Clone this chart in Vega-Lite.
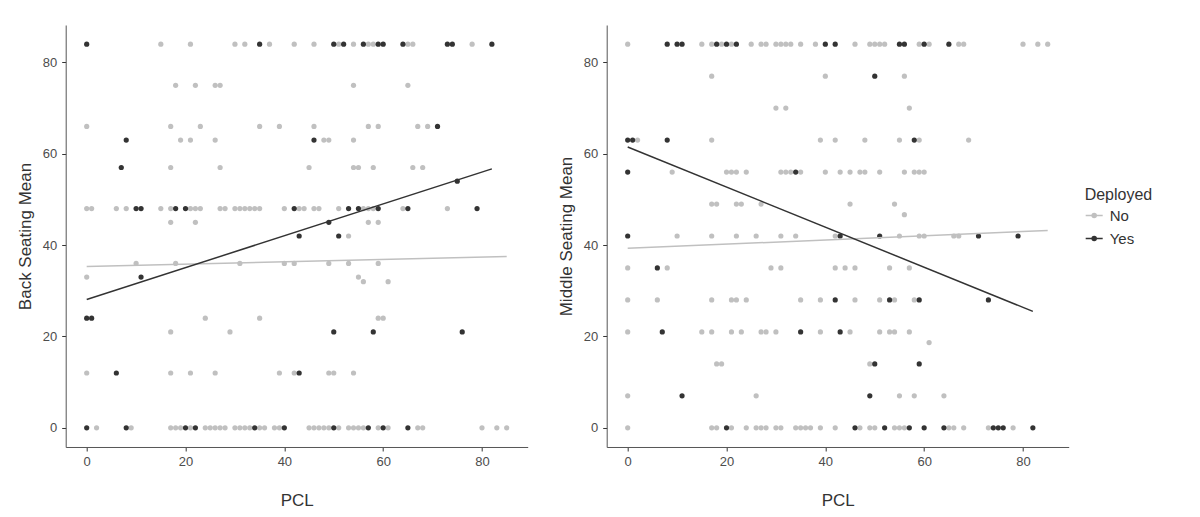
{
  "$schema": "https://vega.github.io/schema/vega-lite/v6.json",
  "background": "white",
  "padding": {"left": 15.7, "top": 25, "right": 5, "bottom": 5},
  "spacing": 29,
  "config": {
    "font": "Liberation Sans",
    "view": {"stroke": null},
    "axis": {
      "grid": false,
      "domainColor": "#555555",
      "domainWidth": 1,
      "tickColor": "#333333",
      "tickSize": 4,
      "labelColor": "#4d4d4d",
      "labelFontSize": 13,
      "labelPadding": 5,
      "titleFontSize": 17,
      "titleFontWeight": "normal",
      "titleColor": "#333333"
    },
    "axisX": {"titlePadding": 24},
    "axisY": {"titlePadding": 8},
    "legend": {
      "padding": 0,
      "titleFontSize": 16,
      "titleFontWeight": "normal",
      "titleColor": "#333333",
      "labelFontSize": 15,
      "labelColor": "#333333"
    }
  },
  "datasets": {
    "back": [
      {"PCL": 15, "Seat": 84, "Deployed": "No"}, {"PCL": 21, "Seat": 84, "Deployed": "No"}, {"PCL": 30, "Seat": 84, "Deployed": "No"}, {"PCL": 32, "Seat": 84, "Deployed": "No"}, {"PCL": 37, "Seat": 84, "Deployed": "No"}, {"PCL": 42, "Seat": 84, "Deployed": "No"}, {"PCL": 46, "Seat": 84, "Deployed": "No"}, {"PCL": 51, "Seat": 84, "Deployed": "No"}, {"PCL": 54, "Seat": 84, "Deployed": "No"}, {"PCL": 57, "Seat": 84, "Deployed": "No"}, {"PCL": 58, "Seat": 84, "Deployed": "No"}, {"PCL": 65, "Seat": 84, "Deployed": "No"}, {"PCL": 66, "Seat": 84, "Deployed": "No"}, {"PCL": 78, "Seat": 84, "Deployed": "No"},
      {"PCL": 18, "Seat": 75, "Deployed": "No"}, {"PCL": 22, "Seat": 75, "Deployed": "No"}, {"PCL": 26, "Seat": 75, "Deployed": "No"}, {"PCL": 27, "Seat": 75, "Deployed": "No"}, {"PCL": 54, "Seat": 75, "Deployed": "No"}, {"PCL": 65, "Seat": 75, "Deployed": "No"},
      {"PCL": 0, "Seat": 66, "Deployed": "No"}, {"PCL": 17, "Seat": 66, "Deployed": "No"}, {"PCL": 23, "Seat": 66, "Deployed": "No"}, {"PCL": 35, "Seat": 66, "Deployed": "No"}, {"PCL": 39, "Seat": 66, "Deployed": "No"}, {"PCL": 46, "Seat": 66, "Deployed": "No"}, {"PCL": 57, "Seat": 66, "Deployed": "No"}, {"PCL": 59, "Seat": 66, "Deployed": "No"}, {"PCL": 67, "Seat": 66, "Deployed": "No"}, {"PCL": 69, "Seat": 66, "Deployed": "No"},
      {"PCL": 19, "Seat": 63, "Deployed": "No"}, {"PCL": 21, "Seat": 63, "Deployed": "No"}, {"PCL": 26, "Seat": 63, "Deployed": "No"}, {"PCL": 48, "Seat": 63, "Deployed": "No"}, {"PCL": 49, "Seat": 63, "Deployed": "No"}, {"PCL": 54, "Seat": 63, "Deployed": "No"},
      {"PCL": 17, "Seat": 57, "Deployed": "No"}, {"PCL": 27, "Seat": 57, "Deployed": "No"}, {"PCL": 45, "Seat": 57, "Deployed": "No"}, {"PCL": 54, "Seat": 57, "Deployed": "No"}, {"PCL": 55, "Seat": 57, "Deployed": "No"}, {"PCL": 58, "Seat": 57, "Deployed": "No"}, {"PCL": 66, "Seat": 57, "Deployed": "No"}, {"PCL": 68, "Seat": 57, "Deployed": "No"},
      {"PCL": 0, "Seat": 48, "Deployed": "No"}, {"PCL": 1, "Seat": 48, "Deployed": "No"}, {"PCL": 6, "Seat": 48, "Deployed": "No"}, {"PCL": 8, "Seat": 48, "Deployed": "No"}, {"PCL": 15, "Seat": 48, "Deployed": "No"}, {"PCL": 17, "Seat": 48, "Deployed": "No"}, {"PCL": 21, "Seat": 48, "Deployed": "No"}, {"PCL": 22, "Seat": 48, "Deployed": "No"}, {"PCL": 23, "Seat": 48, "Deployed": "No"}, {"PCL": 27, "Seat": 48, "Deployed": "No"}, {"PCL": 28, "Seat": 48, "Deployed": "No"}, {"PCL": 30, "Seat": 48, "Deployed": "No"}, {"PCL": 31, "Seat": 48, "Deployed": "No"}, {"PCL": 32, "Seat": 48, "Deployed": "No"}, {"PCL": 33, "Seat": 48, "Deployed": "No"}, {"PCL": 34, "Seat": 48, "Deployed": "No"}, {"PCL": 35, "Seat": 48, "Deployed": "No"}, {"PCL": 40, "Seat": 48, "Deployed": "No"}, {"PCL": 43, "Seat": 48, "Deployed": "No"}, {"PCL": 44, "Seat": 48, "Deployed": "No"}, {"PCL": 46, "Seat": 48, "Deployed": "No"}, {"PCL": 47, "Seat": 48, "Deployed": "No"}, {"PCL": 51, "Seat": 48, "Deployed": "No"}, {"PCL": 56, "Seat": 48, "Deployed": "No"}, {"PCL": 57, "Seat": 48, "Deployed": "No"}, {"PCL": 58, "Seat": 48, "Deployed": "No"}, {"PCL": 64, "Seat": 48, "Deployed": "No"}, {"PCL": 73, "Seat": 48, "Deployed": "No"},
      {"PCL": 17, "Seat": 45, "Deployed": "No"}, {"PCL": 22, "Seat": 45, "Deployed": "No"}, {"PCL": 57, "Seat": 45, "Deployed": "No"}, {"PCL": 59, "Seat": 45, "Deployed": "No"},
      {"PCL": 53, "Seat": 42, "Deployed": "No"},
      {"PCL": 10, "Seat": 36, "Deployed": "No"}, {"PCL": 18, "Seat": 36, "Deployed": "No"}, {"PCL": 31, "Seat": 36, "Deployed": "No"}, {"PCL": 40, "Seat": 36, "Deployed": "No"}, {"PCL": 42, "Seat": 36, "Deployed": "No"}, {"PCL": 49, "Seat": 36, "Deployed": "No"}, {"PCL": 53, "Seat": 36, "Deployed": "No"}, {"PCL": 59, "Seat": 36, "Deployed": "No"},
      {"PCL": 0, "Seat": 33, "Deployed": "No"}, {"PCL": 55, "Seat": 33, "Deployed": "No"},
      {"PCL": 56, "Seat": 32, "Deployed": "No"}, {"PCL": 61, "Seat": 32, "Deployed": "No"},
      {"PCL": 24, "Seat": 24, "Deployed": "No"}, {"PCL": 35, "Seat": 24, "Deployed": "No"}, {"PCL": 59, "Seat": 24, "Deployed": "No"}, {"PCL": 60, "Seat": 24, "Deployed": "No"},
      {"PCL": 17, "Seat": 21, "Deployed": "No"}, {"PCL": 29, "Seat": 21, "Deployed": "No"},
      {"PCL": 0, "Seat": 12, "Deployed": "No"}, {"PCL": 17, "Seat": 12, "Deployed": "No"}, {"PCL": 21, "Seat": 12, "Deployed": "No"}, {"PCL": 26, "Seat": 12, "Deployed": "No"}, {"PCL": 39, "Seat": 12, "Deployed": "No"}, {"PCL": 42, "Seat": 12, "Deployed": "No"}, {"PCL": 49, "Seat": 12, "Deployed": "No"}, {"PCL": 50, "Seat": 12, "Deployed": "No"}, {"PCL": 54, "Seat": 12, "Deployed": "No"},
      {"PCL": 2, "Seat": 0, "Deployed": "No"}, {"PCL": 9, "Seat": 0, "Deployed": "No"}, {"PCL": 17, "Seat": 0, "Deployed": "No"}, {"PCL": 18, "Seat": 0, "Deployed": "No"}, {"PCL": 19, "Seat": 0, "Deployed": "No"}, {"PCL": 21, "Seat": 0, "Deployed": "No"}, {"PCL": 24, "Seat": 0, "Deployed": "No"}, {"PCL": 25, "Seat": 0, "Deployed": "No"}, {"PCL": 26, "Seat": 0, "Deployed": "No"}, {"PCL": 27, "Seat": 0, "Deployed": "No"}, {"PCL": 28, "Seat": 0, "Deployed": "No"}, {"PCL": 30, "Seat": 0, "Deployed": "No"}, {"PCL": 31, "Seat": 0, "Deployed": "No"}, {"PCL": 32, "Seat": 0, "Deployed": "No"}, {"PCL": 33, "Seat": 0, "Deployed": "No"}, {"PCL": 35, "Seat": 0, "Deployed": "No"}, {"PCL": 36, "Seat": 0, "Deployed": "No"}, {"PCL": 38, "Seat": 0, "Deployed": "No"}, {"PCL": 39, "Seat": 0, "Deployed": "No"}, {"PCL": 45, "Seat": 0, "Deployed": "No"}, {"PCL": 46, "Seat": 0, "Deployed": "No"}, {"PCL": 47, "Seat": 0, "Deployed": "No"}, {"PCL": 48, "Seat": 0, "Deployed": "No"}, {"PCL": 49, "Seat": 0, "Deployed": "No"}, {"PCL": 51, "Seat": 0, "Deployed": "No"}, {"PCL": 53, "Seat": 0, "Deployed": "No"}, {"PCL": 54, "Seat": 0, "Deployed": "No"}, {"PCL": 55, "Seat": 0, "Deployed": "No"}, {"PCL": 56, "Seat": 0, "Deployed": "No"}, {"PCL": 59, "Seat": 0, "Deployed": "No"}, {"PCL": 61, "Seat": 0, "Deployed": "No"}, {"PCL": 67, "Seat": 0, "Deployed": "No"}, {"PCL": 68, "Seat": 0, "Deployed": "No"}, {"PCL": 80, "Seat": 0, "Deployed": "No"}, {"PCL": 83, "Seat": 0, "Deployed": "No"}, {"PCL": 85, "Seat": 0, "Deployed": "No"},
      {"PCL": 0, "Seat": 84, "Deployed": "Yes"}, {"PCL": 35, "Seat": 84, "Deployed": "Yes"}, {"PCL": 50, "Seat": 84, "Deployed": "Yes"}, {"PCL": 52, "Seat": 84, "Deployed": "Yes"}, {"PCL": 56, "Seat": 84, "Deployed": "Yes"}, {"PCL": 59, "Seat": 84, "Deployed": "Yes"}, {"PCL": 60, "Seat": 84, "Deployed": "Yes"}, {"PCL": 64, "Seat": 84, "Deployed": "Yes"}, {"PCL": 73, "Seat": 84, "Deployed": "Yes"}, {"PCL": 74, "Seat": 84, "Deployed": "Yes"}, {"PCL": 82, "Seat": 84, "Deployed": "Yes"},
      {"PCL": 71, "Seat": 66, "Deployed": "Yes"},
      {"PCL": 8, "Seat": 63, "Deployed": "Yes"}, {"PCL": 46, "Seat": 63, "Deployed": "Yes"},
      {"PCL": 7, "Seat": 57, "Deployed": "Yes"},
      {"PCL": 75, "Seat": 54, "Deployed": "Yes"},
      {"PCL": 10, "Seat": 48, "Deployed": "Yes"}, {"PCL": 11, "Seat": 48, "Deployed": "Yes"}, {"PCL": 18, "Seat": 48, "Deployed": "Yes"}, {"PCL": 20, "Seat": 48, "Deployed": "Yes"}, {"PCL": 42, "Seat": 48, "Deployed": "Yes"}, {"PCL": 53, "Seat": 48, "Deployed": "Yes"}, {"PCL": 55, "Seat": 48, "Deployed": "Yes"}, {"PCL": 59, "Seat": 48, "Deployed": "Yes"}, {"PCL": 65, "Seat": 48, "Deployed": "Yes"}, {"PCL": 79, "Seat": 48, "Deployed": "Yes"},
      {"PCL": 49, "Seat": 45, "Deployed": "Yes"},
      {"PCL": 43, "Seat": 42, "Deployed": "Yes"}, {"PCL": 51, "Seat": 42, "Deployed": "Yes"},
      {"PCL": 11, "Seat": 33, "Deployed": "Yes"},
      {"PCL": 0, "Seat": 24, "Deployed": "Yes"}, {"PCL": 1, "Seat": 24, "Deployed": "Yes"},
      {"PCL": 50, "Seat": 21, "Deployed": "Yes"}, {"PCL": 58, "Seat": 21, "Deployed": "Yes"}, {"PCL": 76, "Seat": 21, "Deployed": "Yes"},
      {"PCL": 6, "Seat": 12, "Deployed": "Yes"}, {"PCL": 43, "Seat": 12, "Deployed": "Yes"},
      {"PCL": 0, "Seat": 0, "Deployed": "Yes"}, {"PCL": 8, "Seat": 0, "Deployed": "Yes"}, {"PCL": 20, "Seat": 0, "Deployed": "Yes"}, {"PCL": 22, "Seat": 0, "Deployed": "Yes"}, {"PCL": 34, "Seat": 0, "Deployed": "Yes"}, {"PCL": 40, "Seat": 0, "Deployed": "Yes"}, {"PCL": 50, "Seat": 0, "Deployed": "Yes"}, {"PCL": 57, "Seat": 0, "Deployed": "Yes"}, {"PCL": 60, "Seat": 0, "Deployed": "Yes"}, {"PCL": 65, "Seat": 0, "Deployed": "Yes"}
    ],
    "middle": [
      {"PCL": 0, "Seat": 84, "Deployed": "No"}, {"PCL": 15, "Seat": 84, "Deployed": "No"}, {"PCL": 17, "Seat": 84, "Deployed": "No"}, {"PCL": 19, "Seat": 84, "Deployed": "No"}, {"PCL": 21, "Seat": 84, "Deployed": "No"}, {"PCL": 25, "Seat": 84, "Deployed": "No"}, {"PCL": 27, "Seat": 84, "Deployed": "No"}, {"PCL": 28, "Seat": 84, "Deployed": "No"}, {"PCL": 30, "Seat": 84, "Deployed": "No"}, {"PCL": 31, "Seat": 84, "Deployed": "No"}, {"PCL": 32, "Seat": 84, "Deployed": "No"}, {"PCL": 33, "Seat": 84, "Deployed": "No"}, {"PCL": 35, "Seat": 84, "Deployed": "No"}, {"PCL": 38, "Seat": 84, "Deployed": "No"}, {"PCL": 46, "Seat": 84, "Deployed": "No"}, {"PCL": 49, "Seat": 84, "Deployed": "No"}, {"PCL": 50, "Seat": 84, "Deployed": "No"}, {"PCL": 51, "Seat": 84, "Deployed": "No"}, {"PCL": 52, "Seat": 84, "Deployed": "No"}, {"PCL": 59, "Seat": 84, "Deployed": "No"}, {"PCL": 61, "Seat": 84, "Deployed": "No"}, {"PCL": 67, "Seat": 84, "Deployed": "No"}, {"PCL": 68, "Seat": 84, "Deployed": "No"}, {"PCL": 80, "Seat": 84, "Deployed": "No"}, {"PCL": 83, "Seat": 84, "Deployed": "No"}, {"PCL": 85, "Seat": 84, "Deployed": "No"},
      {"PCL": 17, "Seat": 77, "Deployed": "No"}, {"PCL": 40, "Seat": 77, "Deployed": "No"}, {"PCL": 56, "Seat": 77, "Deployed": "No"},
      {"PCL": 30, "Seat": 70, "Deployed": "No"}, {"PCL": 32, "Seat": 70, "Deployed": "No"}, {"PCL": 57, "Seat": 70, "Deployed": "No"},
      {"PCL": 2, "Seat": 63, "Deployed": "No"}, {"PCL": 17, "Seat": 63, "Deployed": "No"}, {"PCL": 39, "Seat": 63, "Deployed": "No"}, {"PCL": 42, "Seat": 63, "Deployed": "No"}, {"PCL": 48, "Seat": 63, "Deployed": "No"}, {"PCL": 55, "Seat": 63, "Deployed": "No"}, {"PCL": 59, "Seat": 63, "Deployed": "No"}, {"PCL": 69, "Seat": 63, "Deployed": "No"},
      {"PCL": 9, "Seat": 56, "Deployed": "No"}, {"PCL": 20, "Seat": 56, "Deployed": "No"}, {"PCL": 21, "Seat": 56, "Deployed": "No"}, {"PCL": 22, "Seat": 56, "Deployed": "No"}, {"PCL": 24, "Seat": 56, "Deployed": "No"}, {"PCL": 31, "Seat": 56, "Deployed": "No"}, {"PCL": 32, "Seat": 56, "Deployed": "No"}, {"PCL": 33, "Seat": 56, "Deployed": "No"}, {"PCL": 35, "Seat": 56, "Deployed": "No"}, {"PCL": 40, "Seat": 56, "Deployed": "No"}, {"PCL": 43, "Seat": 56, "Deployed": "No"}, {"PCL": 45, "Seat": 56, "Deployed": "No"}, {"PCL": 47, "Seat": 56, "Deployed": "No"}, {"PCL": 48, "Seat": 56, "Deployed": "No"}, {"PCL": 51, "Seat": 56, "Deployed": "No"}, {"PCL": 56, "Seat": 56, "Deployed": "No"}, {"PCL": 58, "Seat": 56, "Deployed": "No"}, {"PCL": 59, "Seat": 56, "Deployed": "No"}, {"PCL": 60, "Seat": 56, "Deployed": "No"},
      {"PCL": 17, "Seat": 49, "Deployed": "No"}, {"PCL": 18, "Seat": 49, "Deployed": "No"}, {"PCL": 22, "Seat": 49, "Deployed": "No"}, {"PCL": 23, "Seat": 49, "Deployed": "No"}, {"PCL": 27, "Seat": 49, "Deployed": "No"}, {"PCL": 45, "Seat": 49, "Deployed": "No"}, {"PCL": 54, "Seat": 49, "Deployed": "No"},
      {"PCL": 56, "Seat": 46.67, "Deployed": "No"},
      {"PCL": 10, "Seat": 42, "Deployed": "No"}, {"PCL": 17, "Seat": 42, "Deployed": "No"}, {"PCL": 22, "Seat": 42, "Deployed": "No"}, {"PCL": 26, "Seat": 42, "Deployed": "No"}, {"PCL": 31, "Seat": 42, "Deployed": "No"}, {"PCL": 34, "Seat": 42, "Deployed": "No"}, {"PCL": 42, "Seat": 42, "Deployed": "No"}, {"PCL": 55, "Seat": 42, "Deployed": "No"}, {"PCL": 59, "Seat": 42, "Deployed": "No"}, {"PCL": 60, "Seat": 42, "Deployed": "No"}, {"PCL": 66, "Seat": 42, "Deployed": "No"}, {"PCL": 67, "Seat": 42, "Deployed": "No"},
      {"PCL": 0, "Seat": 35, "Deployed": "No"}, {"PCL": 8, "Seat": 35, "Deployed": "No"}, {"PCL": 29, "Seat": 35, "Deployed": "No"}, {"PCL": 31, "Seat": 35, "Deployed": "No"}, {"PCL": 42, "Seat": 35, "Deployed": "No"}, {"PCL": 44, "Seat": 35, "Deployed": "No"}, {"PCL": 46, "Seat": 35, "Deployed": "No"}, {"PCL": 53, "Seat": 35, "Deployed": "No"}, {"PCL": 57, "Seat": 35, "Deployed": "No"},
      {"PCL": 0, "Seat": 28, "Deployed": "No"}, {"PCL": 6, "Seat": 28, "Deployed": "No"}, {"PCL": 17, "Seat": 28, "Deployed": "No"}, {"PCL": 21, "Seat": 28, "Deployed": "No"}, {"PCL": 22, "Seat": 28, "Deployed": "No"}, {"PCL": 24, "Seat": 28, "Deployed": "No"}, {"PCL": 35, "Seat": 28, "Deployed": "No"}, {"PCL": 39, "Seat": 28, "Deployed": "No"}, {"PCL": 46, "Seat": 28, "Deployed": "No"}, {"PCL": 51, "Seat": 28, "Deployed": "No"}, {"PCL": 54, "Seat": 28, "Deployed": "No"}, {"PCL": 58, "Seat": 28, "Deployed": "No"},
      {"PCL": 0, "Seat": 21, "Deployed": "No"}, {"PCL": 15, "Seat": 21, "Deployed": "No"}, {"PCL": 17, "Seat": 21, "Deployed": "No"}, {"PCL": 21, "Seat": 21, "Deployed": "No"}, {"PCL": 23, "Seat": 21, "Deployed": "No"}, {"PCL": 27, "Seat": 21, "Deployed": "No"}, {"PCL": 28, "Seat": 21, "Deployed": "No"}, {"PCL": 30, "Seat": 21, "Deployed": "No"}, {"PCL": 39, "Seat": 21, "Deployed": "No"}, {"PCL": 45, "Seat": 21, "Deployed": "No"}, {"PCL": 51, "Seat": 21, "Deployed": "No"}, {"PCL": 53, "Seat": 21, "Deployed": "No"}, {"PCL": 54, "Seat": 21, "Deployed": "No"}, {"PCL": 57, "Seat": 21, "Deployed": "No"},
      {"PCL": 61, "Seat": 18.67, "Deployed": "No"},
      {"PCL": 18, "Seat": 14, "Deployed": "No"}, {"PCL": 19, "Seat": 14, "Deployed": "No"}, {"PCL": 49, "Seat": 14, "Deployed": "No"},
      {"PCL": 0, "Seat": 7, "Deployed": "No"}, {"PCL": 26, "Seat": 7, "Deployed": "No"}, {"PCL": 55, "Seat": 7, "Deployed": "No"}, {"PCL": 58, "Seat": 7, "Deployed": "No"}, {"PCL": 64, "Seat": 7, "Deployed": "No"},
      {"PCL": 0, "Seat": 0, "Deployed": "No"}, {"PCL": 17, "Seat": 0, "Deployed": "No"}, {"PCL": 18, "Seat": 0, "Deployed": "No"}, {"PCL": 21, "Seat": 0, "Deployed": "No"}, {"PCL": 24, "Seat": 0, "Deployed": "No"}, {"PCL": 26, "Seat": 0, "Deployed": "No"}, {"PCL": 27, "Seat": 0, "Deployed": "No"}, {"PCL": 28, "Seat": 0, "Deployed": "No"}, {"PCL": 30, "Seat": 0, "Deployed": "No"}, {"PCL": 31, "Seat": 0, "Deployed": "No"}, {"PCL": 34, "Seat": 0, "Deployed": "No"}, {"PCL": 35, "Seat": 0, "Deployed": "No"}, {"PCL": 36, "Seat": 0, "Deployed": "No"}, {"PCL": 37, "Seat": 0, "Deployed": "No"}, {"PCL": 39, "Seat": 0, "Deployed": "No"}, {"PCL": 42, "Seat": 0, "Deployed": "No"}, {"PCL": 47, "Seat": 0, "Deployed": "No"}, {"PCL": 49, "Seat": 0, "Deployed": "No"}, {"PCL": 50, "Seat": 0, "Deployed": "No"}, {"PCL": 54, "Seat": 0, "Deployed": "No"}, {"PCL": 55, "Seat": 0, "Deployed": "No"}, {"PCL": 56, "Seat": 0, "Deployed": "No"}, {"PCL": 65, "Seat": 0, "Deployed": "No"}, {"PCL": 66, "Seat": 0, "Deployed": "No"}, {"PCL": 68, "Seat": 0, "Deployed": "No"}, {"PCL": 73, "Seat": 0, "Deployed": "No"}, {"PCL": 78, "Seat": 0, "Deployed": "No"},
      {"PCL": 8, "Seat": 84, "Deployed": "Yes"}, {"PCL": 10, "Seat": 84, "Deployed": "Yes"}, {"PCL": 11, "Seat": 84, "Deployed": "Yes"}, {"PCL": 18, "Seat": 84, "Deployed": "Yes"}, {"PCL": 20, "Seat": 84, "Deployed": "Yes"}, {"PCL": 22, "Seat": 84, "Deployed": "Yes"}, {"PCL": 40, "Seat": 84, "Deployed": "Yes"}, {"PCL": 42, "Seat": 84, "Deployed": "Yes"}, {"PCL": 55, "Seat": 84, "Deployed": "Yes"}, {"PCL": 56, "Seat": 84, "Deployed": "Yes"}, {"PCL": 60, "Seat": 84, "Deployed": "Yes"}, {"PCL": 65, "Seat": 84, "Deployed": "Yes"},
      {"PCL": 50, "Seat": 77, "Deployed": "Yes"},
      {"PCL": 0, "Seat": 63, "Deployed": "Yes"}, {"PCL": 1, "Seat": 63, "Deployed": "Yes"}, {"PCL": 8, "Seat": 63, "Deployed": "Yes"}, {"PCL": 58, "Seat": 63, "Deployed": "Yes"},
      {"PCL": 0, "Seat": 56, "Deployed": "Yes"}, {"PCL": 34, "Seat": 56, "Deployed": "Yes"},
      {"PCL": 0, "Seat": 42, "Deployed": "Yes"}, {"PCL": 43, "Seat": 42, "Deployed": "Yes"}, {"PCL": 51, "Seat": 42, "Deployed": "Yes"}, {"PCL": 71, "Seat": 42, "Deployed": "Yes"}, {"PCL": 79, "Seat": 42, "Deployed": "Yes"},
      {"PCL": 6, "Seat": 35, "Deployed": "Yes"},
      {"PCL": 42, "Seat": 28, "Deployed": "Yes"}, {"PCL": 53, "Seat": 28, "Deployed": "Yes"}, {"PCL": 59, "Seat": 28, "Deployed": "Yes"}, {"PCL": 73, "Seat": 28, "Deployed": "Yes"},
      {"PCL": 7, "Seat": 21, "Deployed": "Yes"}, {"PCL": 35, "Seat": 21, "Deployed": "Yes"}, {"PCL": 43, "Seat": 21, "Deployed": "Yes"},
      {"PCL": 50, "Seat": 14, "Deployed": "Yes"}, {"PCL": 59, "Seat": 14, "Deployed": "Yes"},
      {"PCL": 11, "Seat": 7, "Deployed": "Yes"}, {"PCL": 49, "Seat": 7, "Deployed": "Yes"},
      {"PCL": 20, "Seat": 0, "Deployed": "Yes"}, {"PCL": 46, "Seat": 0, "Deployed": "Yes"}, {"PCL": 52, "Seat": 0, "Deployed": "Yes"}, {"PCL": 57, "Seat": 0, "Deployed": "Yes"}, {"PCL": 60, "Seat": 0, "Deployed": "Yes"}, {"PCL": 64, "Seat": 0, "Deployed": "Yes"}, {"PCL": 74, "Seat": 0, "Deployed": "Yes"}, {"PCL": 75, "Seat": 0, "Deployed": "Yes"}, {"PCL": 76, "Seat": 0, "Deployed": "Yes"}, {"PCL": 82, "Seat": 0, "Deployed": "Yes"}
    ],
    "backFit": [
      {"PCL": 0, "Seat": 35.3, "Deployed": "No"}, {"PCL": 85, "Seat": 37.5, "Deployed": "No"},
      {"PCL": 0, "Seat": 28.1, "Deployed": "Yes"}, {"PCL": 82, "Seat": 56.7, "Deployed": "Yes"}
    ],
    "middleFit": [
      {"PCL": 0, "Seat": 39.3, "Deployed": "No"}, {"PCL": 85, "Seat": 43.2, "Deployed": "No"},
      {"PCL": 0, "Seat": 61.5, "Deployed": "Yes"}, {"PCL": 82, "Seat": 25.5, "Deployed": "Yes"}
    ]
  },
  "hconcat": [
    {
      "width": 462,
      "height": 422,
      "layer": [
        {
          "data": {"name": "back"},
          "mark": {"type": "circle", "size": 27, "opacity": 1},
          "encoding": {
            "x": {"field": "PCL", "type": "quantitative", "scale": {"domain": [-4.25, 89.25], "nice": false, "zero": false}, "axis": {"values": [0, 20, 40, 60, 80], "title": "PCL"}},
            "y": {"field": "Seat", "type": "quantitative", "scale": {"domain": [-4.2, 88.2], "nice": false, "zero": false}, "axis": {"values": [0, 20, 40, 60, 80], "title": "Back Seating Mean"}},
            "color": {
              "field": "Deployed", "type": "nominal",
              "scale": {"domain": ["No", "Yes"], "range": ["#c0c0c0", "#333333"]},
              "legend": {
                "title": "Deployed",
                "orient": "none",
                "legendX": 1019,
                "legendY": 162,
                "symbolType": "M-1,0L1,0M0.24,0A0.24,0.24 0 1 1 -0.24,0A0.24,0.24 0 1 1 0.24,0Z",
                "symbolSize": 289,
                "symbolStrokeWidth": 1.5,
                "labelOffset": 6,
                "rowPadding": 5,
                "titlePadding": 3,
                "encode": {"symbols": {"update": {"stroke": {"scale": "color", "field": "value"}}}}
              }
            }
          }
        },
        {
          "data": {"name": "backFit"},
          "mark": {"type": "line", "strokeWidth": 1.5},
          "encoding": {
            "x": {"field": "PCL", "type": "quantitative"},
            "y": {"field": "Seat", "type": "quantitative"},
            "color": {"field": "Deployed", "type": "nominal"}
          }
        }
      ]
    },
    {
      "width": 462,
      "height": 422,
      "layer": [
        {
          "data": {"name": "middle"},
          "mark": {"type": "circle", "size": 27, "opacity": 1},
          "encoding": {
            "x": {"field": "PCL", "type": "quantitative", "scale": {"domain": [-4.25, 89.25], "nice": false, "zero": false}, "axis": {"values": [0, 20, 40, 60, 80], "title": "PCL"}},
            "y": {"field": "Seat", "type": "quantitative", "scale": {"domain": [-4.2, 88.2], "nice": false, "zero": false}, "axis": {"values": [0, 20, 40, 60, 80], "title": "Middle Seating Mean"}},
            "color": {"field": "Deployed", "type": "nominal"}
          }
        },
        {
          "data": {"name": "middleFit"},
          "mark": {"type": "line", "strokeWidth": 1.5},
          "encoding": {
            "x": {"field": "PCL", "type": "quantitative"},
            "y": {"field": "Seat", "type": "quantitative"},
            "color": {"field": "Deployed", "type": "nominal"}
          }
        }
      ]
    }
  ]
}
